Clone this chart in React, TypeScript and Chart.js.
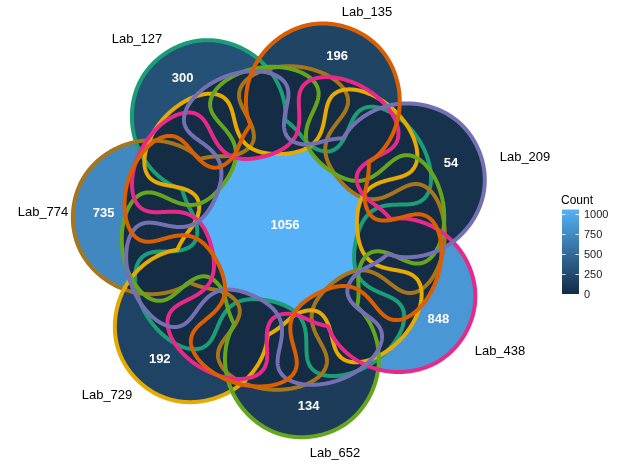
import React, { useEffect, useRef } from "react";
import { Chart, registerables } from "chart.js";
Chart.register(...registerables);

// ---- data ----
const setNames = ["Lab_135", "Lab_209", "Lab_438", "Lab_652", "Lab_729", "Lab_774", "Lab_127"];
const uniqueCounts = [196, 54, 848, 134, 192, 735, 300];
const allSetsCount = 1056;
const legendTicks = [0, 250, 500, 750, 1000];
const countDomain = [0, 1056];

// ---- styles / layout ----
const setColors = ["#D95F02", "#7570B3", "#E7298A", "#66A61E", "#E6AB02", "#A6761D", "#1B9E77"];
const lowColor = [19, 43, 67];
const highColor = [86, 177, 247];
const firstLobeAngle = 72.5; // degrees, first set
const lobeDist = 132;
const lobeRadius = 77;
const baseRadius = 118;
const waveAmp = 44;
const foldAmp = 0.16;
const countLabelRadius = 180;
const setLabelPos = [
  [84, 216], [242, 71], [217, -123], [52, -225], [-176, -167], [-240, 16], [-146, 189],
];

function colorFor(v: number): string {
  const t = Math.max(0, Math.min(1, (v - countDomain[0]) / (countDomain[1] - countDomain[0])));
  const c = lowColor.map((l, i) => Math.round(l + (highColor[i] - l) * t));
  return `rgb(${c[0]},${c[1]},${c[2]})`;
}

function lobeAngle(k: number) {
  return ((firstLobeAngle - (k * 360) / 7) * Math.PI) / 180;
}

function outline(k: number) {
  const th = lobeAngle(k);
  const pts: { x: number; y: number }[] = [];
  const N = 1400;
  const P = 10;
  for (let i = 0; i <= N; i++) {
    const a = (i / N) * 2 * Math.PI - Math.PI;
    const sa = Math.sin(a), ca = Math.cos(a);
    let L = 0;
    if (ca > 0) {
      const disc = lobeRadius * lobeRadius - lobeDist * lobeDist * sa * sa;
      L = lobeDist * ca + (disc > 0 ? Math.sqrt(disc) : 0);
    }
    const B = baseRadius + waveAmp * Math.cos(4 * a);
    const LP = Math.pow(L, P), BP = Math.pow(B, P);
    const r = Math.pow(LP + BP, 1 / P);
    const w = BP / (LP + BP);
    const a2 = a + w * foldAmp * Math.sin(8 * a);
    pts.push({ x: r * Math.cos(a2 + th), y: r * Math.sin(a2 + th) });
  }
  return pts;
}

const vennPlugin = {
  id: "vennRegions",
  beforeDatasetsDraw(chart: any) {
    const ctx: CanvasRenderingContext2D = chart.ctx;
    const xs = chart.scales.x, ys = chart.scales.y;
    const paths: Path2D[] = chart.data.datasets.map((ds: any) => {
      const p = new Path2D();
      ds.data.forEach((pt: any, i: number) => {
        const px = xs.getPixelForValue(pt.x), py = ys.getPixelForValue(pt.y);
        if (i === 0) p.moveTo(px, py); else p.lineTo(px, py);
      });
      p.closePath();
      return p;
    });
    ctx.save();
    paths.forEach((p, k) => {
      ctx.fillStyle = colorFor(uniqueCounts[k]);
      ctx.fill(p);
    });
    const dark = colorFor(8);
    for (let i = 0; i < paths.length; i++) {
      for (let j = i + 1; j < paths.length; j++) {
        ctx.save();
        ctx.clip(paths[i]);
        ctx.fillStyle = dark;
        ctx.fill(paths[j]);
        ctx.restore();
      }
    }
    ctx.save();
    paths.forEach((p) => ctx.clip(p));
    ctx.fillStyle = colorFor(allSetsCount);
    ctx.fillRect(0, 0, chart.width, chart.height);
    ctx.restore();
    ctx.restore();
  },
  afterDatasetsDraw(chart: any) {
    const ctx: CanvasRenderingContext2D = chart.ctx;
    const xs = chart.scales.x, ys = chart.scales.y;
    ctx.save();
    ctx.textAlign = "center";
    ctx.textBaseline = "middle";
    ctx.fillStyle = "#ffffff";
    ctx.font = "bold 13px 'Liberation Sans', Arial, sans-serif";
    uniqueCounts.forEach((c, k) => {
      const a = lobeAngle(k);
      ctx.fillText(String(c), xs.getPixelForValue(countLabelRadius * Math.cos(a)), ys.getPixelForValue(countLabelRadius * Math.sin(a)));
    });
    ctx.fillText(String(allSetsCount), xs.getPixelForValue(2), ys.getPixelForValue(3));
    ctx.fillStyle = "#000000";
    ctx.font = "13px 'Liberation Sans', Arial, sans-serif";
    setNames.forEach((n, k) => {
      ctx.fillText(n, xs.getPixelForValue(setLabelPos[k][0]), ys.getPixelForValue(setLabelPos[k][1]));
    });
    // colour bar legend
    const barX = 562, barW = 17, barBottom = 294, pxPerUnit = 20 / 250;
    const barTop = barBottom - countDomain[1] * pxPerUnit;
    const g = ctx.createLinearGradient(0, barBottom, 0, barTop);
    g.addColorStop(0, colorFor(countDomain[0]));
    g.addColorStop(1, colorFor(countDomain[1]));
    ctx.fillStyle = g;
    ctx.fillRect(barX, barTop, barW, barBottom - barTop);
    ctx.strokeStyle = "rgba(255,255,255,0.8)";
    ctx.lineWidth = 1;
    ctx.textAlign = "left";
    ctx.fillStyle = "#1a1a1a";
    ctx.font = "11px 'Liberation Sans', Arial, sans-serif";
    legendTicks.forEach((t) => {
      const y = Math.round(barBottom - t * pxPerUnit) + 0.5;
      ctx.beginPath();
      ctx.moveTo(barX, y); ctx.lineTo(barX + 3.5, y);
      ctx.moveTo(barX + barW - 3.5, y); ctx.lineTo(barX + barW, y);
      ctx.stroke();
      ctx.fillText(String(t), barX + barW + 5, y);
    });
    ctx.fillStyle = "#000000";
    ctx.font = "12px 'Liberation Sans', Arial, sans-serif";
    ctx.fillText("Count", barX - 1, barTop - 9);
    ctx.restore();
  },
};

export default function App() {
  const ref = useRef<HTMLCanvasElement>(null);
  useEffect(() => {
    if (!ref.current) return;
    const chart = new Chart(ref.current, {
      type: "scatter",
      data: {
        datasets: setNames.map((n, k) => ({
          label: n,
          data: outline(k),
          showLine: true,
          borderColor: setColors[k],
          borderWidth: 4,
          borderJoinStyle: "round",
          pointRadius: 0,
          fill: false,
          tension: 0.0001,
        })),
      },
      options: {
        animation: false,
        responsive: true,
        maintainAspectRatio: false,
        layout: { padding: 0 },
        events: [],
        scales: {
          x: { type: "linear", min: -283, max: 340, display: false },
          y: { type: "linear", min: -237, max: 228, display: false },
        },
        plugins: { legend: { display: false }, tooltip: { enabled: false } },
      },
      plugins: [vennPlugin],
    });
    return () => chart.destroy();
  }, []);
  return (
    <div style={{ position: "fixed", left: 0, top: 0, width: 623, height: 465, background: "#fff" }}>
      <canvas ref={ref} />
    </div>
  );
}
